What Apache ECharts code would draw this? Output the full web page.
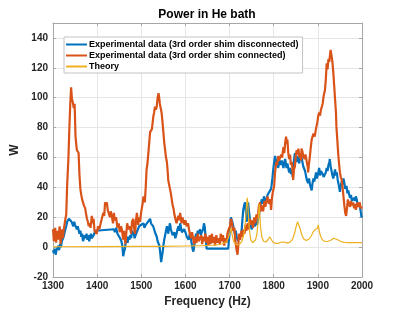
<!DOCTYPE html>
<html>
<head>
<meta charset="utf-8">
<script src="https://cdn.jsdelivr.net/npm/echarts@6/dist/echarts.min.js"></script>
<style>
  html, body { margin: 0; padding: 0; background: #fff; }
  #chart { width: 400px; height: 313px; }
</style>
</head>
<body>
<div id="chart"></div>
<script>
  // series names
  const names = [
    'Experimental data (3rd order shim disconnected)',
    'Experimental data (3rd order shim connected)',
    'Theory'
  ]

  // axis ticks
  const xTicks = [1300, 1400, 1500, 1600, 1700, 1800, 1900, 2000]
  const yTicks = [-20, 0, 20, 40, 60, 80, 100, 120, 140]

  // shim disconnected (blue)
  const blueFreq = [1300,1302,1304,1306,1308,1310,1312,1314,1316,1318,1320,1322,1324,1326,1328,1330,1332,1334,1336,1338,1340,1342,1344,1346,1348,1350,1352,1354,1356,1358,1360,1362,1364,1366,1368,1370,1372,1374,1376,1378,1380,1382,1384,1386,1388,1390,1392,1394,1396,1398,1438,1440,1443,1446,1449,1452,1455,1457,1459,1461,1463,1465,1467,1469,1471,1473,1475,1477,1479,1481,1483,1485,1487,1489,1491,1493,1495,1497,1500,1502,1505,1507,1510,1512,1515,1517,1520,1522,1524,1527,1529,1531,1533,1535,1537,1539,1541,1543,1545,1547,1549,1550,1552,1554,1556,1558,1560,1561,1563,1565,1567,1569,1571,1573,1575,1577,1580,1582,1584,1586,1588,1590,1592,1595,1597,1600,1603,1605,1607,1610,1612,1614,1616,1618,1620,1622,1624,1626,1628,1630,1633,1635,1637,1640,1642,1644,1646,1648,1697,1699,1701,1703,1705,1707,1709,1712,1714,1716,1719,1721,1724,1727,1729,1731,1733,1735,1737,1739,1741,1742,1744,1746,1748,1750,1752,1755,1758,1760,1762,1765,1767,1769,1771,1773,1775,1776,1778,1780,1782,1784,1786,1788,1790,1792,1794,1795,1797,1799,1801,1803,1805,1807,1809,1810,1812,1814,1816,1818,1820,1822,1824,1826,1828,1829,1831,1833,1835,1837,1839,1841,1843,1845,1848,1850,1852,1854,1856,1858,1860,1863,1865,1867,1869,1871,1873,1875,1878,1880,1882,1884,1886,1888,1890,1892,1894,1896,1898,1901,1903,1905,1907,1909,1911,1913,1916,1918,1920,1922,1924,1926,1927,1929,1931,1933,1935,1937,1939,1941,1943,1945,1947,1950,1952,1954,1956,1958,1960,1962,1965,1967,1969,1971,1973,1975,1977,1980,1982,1984,1986,1988,1990,1992,1995,1997,1999,2000]
  const blueVal = [-2,-4,-1,-5,-2,-3,1,-2,2,0,4,3,7,6,12,14,17,16,19,18,20,17,18,14,17,15,16,12,14,13,9,11,7,9,4,3,8,6,9,5,8,4,7,9,6,5,8,9,11,12,12,10,13,9,9,6,4,1,-6,-3,-1,4,7,3,7,5,8,6,11,12,9,6,8,7,11,10,14,13,15,14,16,13,15,14,17,18,19,16,17,14,12,10,9,7,4,5,1,-4,-10,-6,-2,1,5,8,11,14,12,9,13,16,12,10,8,7,10,6,9,12,14,11,16,13,10,9,12,10,7,8,5,9,6,3,-1,-3,1,5,9,7,11,9,12,8,10,12,16,13,5,-1,-1,6,12,20,19,16,13,9,11,7,4,6,5,10,18,25,28,30,24,17,26,30,24,19,15,12,13,16,14,18,15,19,22,27,28,32,29,30,34,33,30,32,35,34,37,36,39,41,46,52,57,61,58,55,57,53,56,58,55,58,56,53,57,59,55,53,56,55,50,53,49,52,47,56,63,60,57,61,59,56,62,60,57,54,55,51,48,45,43,46,42,40,38,43,46,44,47,50,46,50,53,48,51,52,49,47,46,50,53,51,55,57,59,54,51,48,46,49,52,48,50,45,42,37,41,44,42,46,43,39,41,36,38,35,33,35,31,30,33,31,34,32,29,30,28,24,20,21]

  // shim connected (orange)
  const orangeFreq = [1300,1302,1305,1307,1310,1312,1315,1317,1320,1322,1325,1327,1330,1332,1335,1337,1339,1341,1343,1345,1347,1349,1351,1354,1356,1358,1360,1362,1364,1366,1368,1370,1373,1375,1377,1379,1381,1383,1385,1388,1390,1392,1394,1396,1399,1402,1405,1408,1411,1414,1416,1418,1420,1422,1424,1426,1429,1431,1433,1436,1438,1440,1443,1446,1449,1451,1454,1456,1459,1461,1464,1466,1468,1471,1474,1477,1479,1482,1484,1486,1488,1490,1493,1495,1497,1500,1503,1505,1508,1510,1512,1514,1516,1518,1520,1522,1524,1526,1527,1529,1531,1533,1535,1537,1539,1541,1542,1544,1546,1548,1550,1552,1554,1556,1558,1560,1561,1563,1565,1567,1569,1571,1573,1575,1576,1578,1580,1582,1584,1586,1588,1590,1591,1593,1595,1598,1600,1603,1606,1608,1610,1613,1615,1618,1620,1622,1625,1628,1630,1633,1636,1638,1640,1643,1645,1648,1650,1652,1655,1657,1660,1662,1665,1667,1670,1672,1675,1678,1680,1683,1685,1688,1690,1693,1695,1698,1701,1703,1705,1708,1711,1713,1716,1718,1720,1721,1724,1727,1729,1731,1734,1736,1738,1741,1743,1746,1748,1751,1753,1756,1758,1761,1764,1766,1769,1771,1774,1776,1779,1781,1784,1786,1789,1792,1794,1796,1798,1801,1803,1806,1808,1810,1812,1814,1817,1819,1822,1824,1826,1828,1830,1831,1833,1835,1837,1839,1841,1843,1844,1846,1848,1850,1852,1854,1856,1858,1860,1862,1863,1865,1867,1870,1872,1875,1877,1878,1880,1882,1884,1886,1888,1890,1893,1895,1897,1899,1901,1903,1905,1907,1909,1911,1913,1916,1918,1920,1922,1924,1926,1928,1929,1931,1933,1935,1937,1939,1941,1942,1944,1946,1948,1950,1952,1954,1956,1958,1960,1962,1964,1966,1968,1970,1973,1975,1977,1980,1982,1984,1986,1988,1990,1992,1995,1997,2000]
  const orangeVal = [12,4,13,3,11,5,14,2,12,6,13,17,22,41,60,79,95,107,99,97,93,96,74,65,66,63,48,39,35,32,30,28,26,22,19,17,14,16,13,21,16,19,11,12,9,14,12,16,15,23,21,30,28,30,25,26,20,24,21,16,23,18,20,13,16,10,14,12,5,11,2,9,16,12,14,9,17,19,12,9,18,23,15,20,17,24,29,34,30,40,52,56,63,70,77,76,79,84,87,90,94,92,94,100,103,99,96,93,90,84,77,70,65,60,57,50,45,42,39,36,32,28,26,22,21,18,16,19,21,18,23,19,16,20,21,15,18,14,16,12,9,6,10,5,2,7,3,9,4,3,8,2,7,4,9,3,7,1,8,2,9,3,7,1,8,3,6,2,9,4,8,1,6,3,9,12,14,19,17,11,13,4,-2,-5,2,9,5,11,7,12,9,15,11,16,12,19,15,18,13,20,16,22,19,27,30,24,28,24,31,27,27,34,29,32,25,33,37,41,50,57,55,61,58,59,62,60,67,63,70,74,69,72,63,59,62,55,57,50,45,52,54,61,65,62,66,60,63,58,66,64,61,59,62,57,54,50,56,61,67,72,71,76,74,78,79,84,88,90,88,92,94,96,101,105,112,123,119,126,124,130,132,128,124,117,108,99,90,81,72,63,56,50,47,45,40,34,28,23,21,26,32,29,27,31,28,30,26,29,25,26,30,27,30,26,27]

  // theory (yellow)
  const theoryFreq = [1300,1400,1500,1550,1600,1640,1660,1675,1685,1692,1697,1700,1703,1706,1709,1713,1718,1723,1728,1732,1735,1737,1739,1740,1741,1743,1745,1748,1752,1756,1759,1762,1764,1766,1767,1768,1770,1773,1777,1782,1787,1791,1794,1798,1804,1810,1816,1820,1824,1830,1836,1842,1847,1851,1854,1857,1860,1864,1868,1874,1880,1885,1890,1894,1897,1899,1901,1903,1906,1910,1915,1922,1930,1936,1940,1945,1952,1960,1970,1985,2000]
  const theoryVal = [0.3,0.4,0.5,0.6,0.8,1.0,1.3,1.7,2.3,3.5,6,9,13,8,4,2.2,1.5,2,4,8,14,22,30,33,30,20,11,5,3,3.2,5,9,15,24,29,25,14,7,4,3.5,5,7,6,3.5,2.5,2.5,3.3,3.8,3.5,2.7,3.2,5,9,14,17,16,12,8,5.5,4.5,5.5,7.5,10.5,12,11,12.5,15,11,7.5,5,4,3.8,4.8,6,6,5,3.8,3.2,3,3,3]

  const colors = ['#0072BD', '#D95319', '#EDB120']
  const font = 'Liberation Sans, Arial, sans-serif'
  const axisColor = '#a6a6a6'
  const gridColor = '#e6e6e6'

  function pairs(fs, vs) {
    return fs.map((f, i) => [f, vs[i]])
  }

  let chart = echarts.init(document.getElementById('chart'), null, { renderer: 'canvas' })

  let axisLine = { onZero: false, lineStyle: { color: axisColor, width: 1 } }
  let axisTick = { inside: true, length: 3, lineStyle: { color: axisColor } }
  let labelStyle = { fontFamily: font, fontWeight: 'bold', fontSize: 10, color: '#262626' }

  let option = {
    animation: false,
    color: colors,
    title: {
      text: 'Power in He bath',
      left: 207,
      top: 9,
      padding: 0,
      textAlign: 'center',
      textStyle: { fontFamily: font, fontWeight: 'bold', fontSize: 12, color: '#000' }
    },
    legend: {
      orient: 'vertical',
      left: 64,
      top: 37,
      itemWidth: 21,
      itemHeight: 8,
      itemGap: 0,
      padding: [2, 4, 1, 1],
      borderColor: '#c4c4c4',
      borderWidth: 1,
      backgroundColor: '#fff',
      itemStyle: { opacity: 0 },
      textStyle: { fontFamily: font, fontWeight: 'bold', fontSize: 9, color: '#000', lineHeight: 11, padding: [0, 0, 0, -3] },
      data: names
    },
    grid: { left: 53, right: 38, top: 23, bottom: 35, containLabel: false },
    xAxis: [
      {
        type: 'value', min: xTicks[0], max: xTicks[xTicks.length - 1], interval: 100,
        position: 'bottom',
        axisLine, axisTick,
        axisLabel: Object.assign({ margin: 4, formatter: v => String(v) }, labelStyle),
        splitLine: { lineStyle: { color: gridColor } },
        name: 'Frequency (Hz)', nameLocation: 'middle', nameGap: 16,
        nameTextStyle: { fontFamily: font, fontWeight: 'bold', fontSize: 12, color: '#262626' }
      },
      {
        type: 'value', min: xTicks[0], max: xTicks[xTicks.length - 1], interval: 100,
        position: 'top',
        axisLine, axisTick,
        axisLabel: { show: false },
        splitLine: { show: false }
      }
    ],
    yAxis: [
      {
        type: 'value', min: yTicks[0], max: 150, interval: 20,
        position: 'left',
        axisLine, axisTick,
        axisLabel: Object.assign({
          margin: 5,
          formatter: v => (yTicks.indexOf(v) >= 0 ? String(v) : '')
        }, labelStyle),
        splitLine: { lineStyle: { color: gridColor } },
        name: 'W', nameLocation: 'middle', nameGap: 29, nameRotate: 90,
        nameTextStyle: { fontFamily: font, fontWeight: 'bold', fontSize: 12, color: '#262626' }
      },
      {
        type: 'value', min: yTicks[0], max: 150, interval: 20,
        position: 'right',
        axisLine, axisTick,
        axisLabel: { show: false },
        splitLine: { show: false }
      }
    ],
    series: [
      {
        name: names[0], type: 'line', symbol: 'none',
        lineStyle: { width: 2.2, color: colors[0] },
        data: pairs(blueFreq, blueVal)
      },
      {
        name: names[1], type: 'line', symbol: 'none',
        lineStyle: { width: 2.2, color: colors[1] },
        data: pairs(orangeFreq, orangeVal)
      },
      {
        name: names[2], type: 'line', symbol: 'none',
        lineStyle: { width: 1.2, color: colors[2] },
        data: pairs(theoryFreq, theoryVal)
      }
    ]
  }

  chart.setOption(option)
</script>
</body>
</html>
